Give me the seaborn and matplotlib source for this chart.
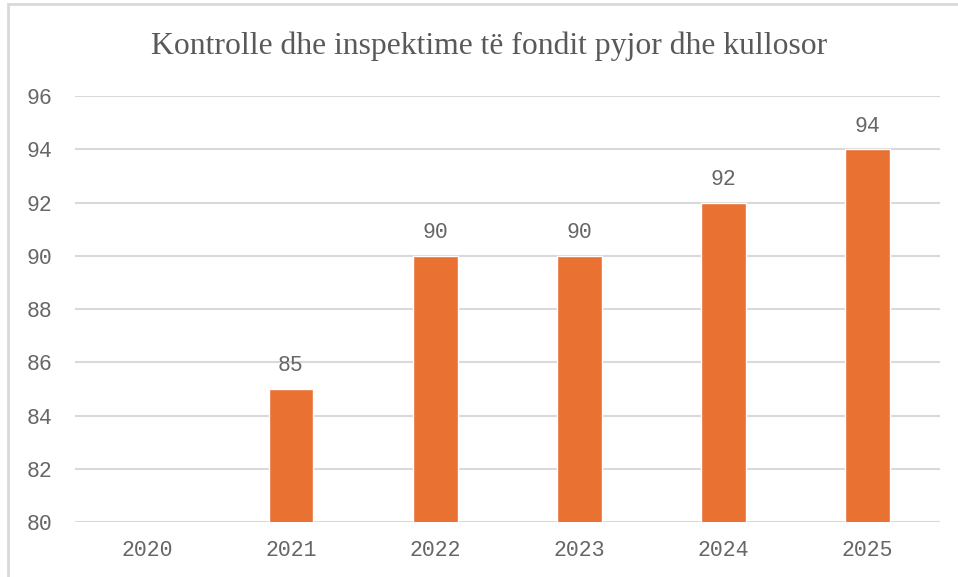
import numpy as np
import pandas as pd
import seaborn as sns
import matplotlib.pyplot as plt
from matplotlib.patches import Rectangle

# data
years = ["2020", "2021", "2022", "2023", "2024", "2025"]
values = [np.nan, 85, 90, 90, 92, 94]
title = "Kontrolle dhe inspektime të fondit pyjor dhe kullosor"

df = pd.DataFrame({"year": years, "value": values})

sns.set_style("white")
text_color = "#595959"
grid_color = "#D9D9D9"
bar_color = "#E97132"

fig = plt.figure(figsize=(9.58, 5.77), dpi=100)
ax = fig.add_axes([0.078, 0.0953, 0.903, 0.7383])

sns.barplot(data=df, x="year", y="value", color=bar_color, width=0.31,
            saturation=1, ax=ax, zorder=3)

ax.set_ylim(80, 96)
ax.set_yticks(range(80, 97, 2))
ax.set_xlim(-0.5, 5.5)
ax.yaxis.grid(True, color=grid_color, linewidth=1.5, zorder=0)
ax.set_axisbelow(True)
for s in ax.spines.values():
    s.set_visible(False)
ax.set_xlabel("")
ax.set_ylabel("")
ax.tick_params(axis="both", length=0, labelsize=15.5, labelcolor="#666666")
ax.tick_params(axis="y", pad=16)
ax.tick_params(axis="x", pad=13)
for lab in ax.get_xticklabels() + ax.get_yticklabels():
    lab.set_fontfamily("Liberation Mono")

# value labels above bars
for i, v in enumerate(values):
    if not np.isnan(v):
        ax.annotate(f"{v:g}", (i, v), xytext=(0, 9), textcoords="offset points",
                    ha="center", va="bottom", fontsize=15.5, color="#666666",
                    family="Liberation Mono")

fig.text(0.511, 0.92, title, ha="center", va="center", fontsize=22.8,
         color=text_color, family="Liberation Serif")

# outer chart frame
fig.patches.append(Rectangle((8 / 958, -0.05), 1.1, 1 - 4 / 577 + 0.05,
                             transform=fig.transFigure, fill=False,
                             edgecolor=grid_color, linewidth=2))

fig.savefig("out.png", dpi=100)
